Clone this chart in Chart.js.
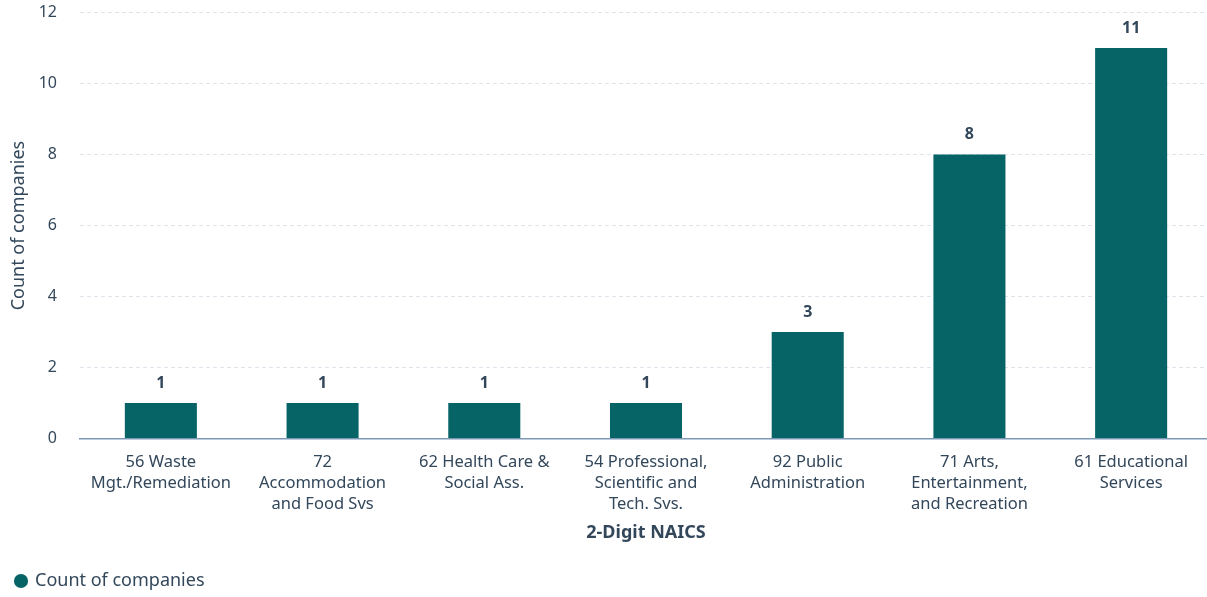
<!DOCTYPE html>
<html>
<head>
<meta charset="utf-8">
<script src="https://cdn.jsdelivr.net/npm/chart.js@4"></script>
<style>
  html, body { margin: 0; padding: 0; background: #fff; overflow: hidden; }
  #wrap { width: 1212px; height: 597px; position: relative; }
</style>
</head>
<body>
<div id="wrap"><canvas id="chart"></canvas></div>
<script>
// chart data
const categories = [
    ["56 Waste", "Mgt./Remediation"],
    ["72", "Accommodation", "and Food Svs"],
    ["62 Health Care &", "Social Ass."],
    ["54 Professional,", "Scientific and", "Tech. Svs."],
    ["92 Public", "Administration"],
    ["71 Arts,", "Entertainment,", "and Recreation"],
    ["61 Educational", "Services"]
];
const companyCounts = [1, 1, 1, 1, 3, 8, 11];
const seriesName = "Count of companies";

const textColor = "#33475b";
const barColor = "#066466";
const fontFamily = "'Noto Sans', Lato, sans-serif";

// draws the bold value above each bar
const valueLabels = {
    id: "valueLabels",
    afterDatasetsDraw(chart) {
        const ctx = chart.ctx;
        const meta = chart.getDatasetMeta(0);
        ctx.save();
        ctx.font = "bold 16px " + fontFamily;
        ctx.fillStyle = textColor;
        ctx.textAlign = "center";
        ctx.textBaseline = "middle";
        meta.data.forEach((bar, i) => {
            ctx.fillText(String(chart.data.datasets[0].data[i]), bar.x, bar.y - 20);
        });
        ctx.restore();
    }
};

const ctx = document.getElementById("chart").getContext("2d");
new Chart(ctx, {
    type: "bar",
    data: {
        labels: categories,
        datasets: [{
            label: seriesName,
            data: companyCounts,
            backgroundColor: barColor,
            borderWidth: 0,
            categoryPercentage: 0.9,
            barPercentage: 0.495
        }]
    },
    options: {
        responsive: true,
        maintainAspectRatio: false,
        animation: false,
        layout: { padding: { top: 0, right: 0, left: 4, bottom: -3 } },
        plugins: {
            legend: {
                position: "bottom",
                align: "start",
                labels: {
                    usePointStyle: true,
                    pointStyle: "circle",
                    boxWidth: 10,
                    boxHeight: 10,
                    color: textColor,
                    padding: 12,
                    font: { family: fontFamily, size: 18 }
                }
            },
            tooltip: { enabled: false }
        },
        scales: {
            x: {
                grid: { display: false, drawTicks: false },
                border: { display: true, color: "#7c98b6", width: 1.5 },
                ticks: {
                    color: textColor,
                    padding: 13,
                    maxRotation: 0,
                    autoSkip: false,
                    font: { family: fontFamily, size: 16.5, lineHeight: 1.27 }
                },
                title: {
                    display: true,
                    text: "2-Digit NAICS",
                    color: textColor,
                    padding: { top: -5, bottom: 16 },
                    font: { family: fontFamily, size: 18, weight: "bold" }
                }
            },
            y: {
                min: 0,
                max: 12,
                afterFit(scale) {
                    scale.width = 76;
                },
                ticks: {
                    stepSize: 2,
                    color: textColor,
                    padding: 3,
                    font: { family: fontFamily, size: 16 }
                },
                grid: {
                    color: "#dfe3eb",
                    drawTicks: true,
                    tickLength: 20,
                    tickColor: "rgba(0,0,0,0)",
                    lineWidth: 1
                },
                border: { display: false, dash: [4, 3] },
                title: {
                    display: true,
                    text: seriesName,
                    color: textColor,
                    padding: { top: 4, bottom: 0 },
                    font: { family: fontFamily, size: 18 }
                }
            }
        }
    },
    plugins: [valueLabels]
});
</script>
</body>
</html>
